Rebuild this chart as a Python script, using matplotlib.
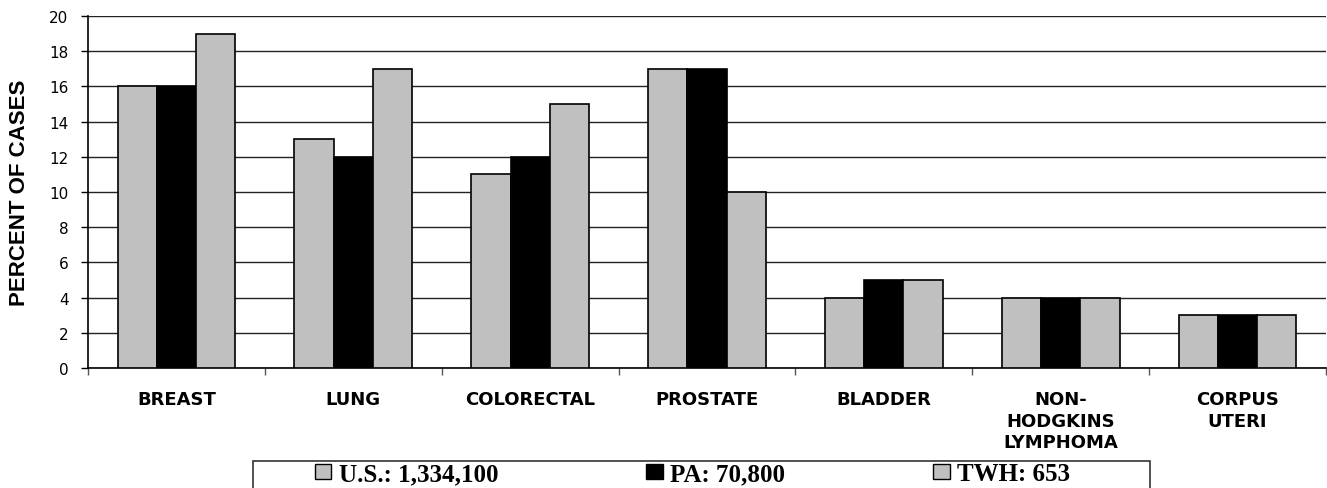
import matplotlib
matplotlib.use("Agg")
import matplotlib.pyplot as plt
from matplotlib.patches import Patch, Rectangle
import numpy as np

# Cancer site shares (percent of cases) for three populations
categories = ["BREAST", "LUNG", "COLORECTAL", "PROSTATE", "BLADDER",
              "NON-\nHODGKINS\nLYMPHOMA", "CORPUS\nUTERI"]
us_values = [16, 13, 11, 17, 4, 4, 3]
pa_values = [16, 12, 12, 17, 5, 4, 3]
twh_values = [19, 17, 15, 10, 5, 4, 3]
series_labels = ["U.S.: 1,334,100", "PA: 70,800", "TWH: 653"]
y_ticks = [0, 2, 4, 6, 8, 10, 12, 14, 16, 18, 20]

W, H = 1327, 489
fig = plt.figure(figsize=(W / 100, H / 100), dpi=100)
ax = fig.add_axes([88 / W, 120 / H, 1238 / W, 352 / H])

gray = "#c0c0c0"
colors = [gray, "black", gray]
series = [us_values, pa_values, twh_values]
x = np.arange(len(categories))
bw = 0.222
for i, (vals, col) in enumerate(zip(series, colors)):
    ax.bar(x + (i - 1) * bw, vals, width=bw, color=col,
           edgecolor="black", linewidth=1.2, zorder=3)

ax.set_xlim(-0.5, len(categories) - 0.5)
ax.set_ylim(0, 20)
ax.set_yticks(y_ticks)
ax.set_yticklabels([str(t) for t in y_ticks], family="DejaVu Sans",
                   fontsize=11)
ax.tick_params(axis="y", length=5, width=1, pad=9, color="black")

ax.set_xticks(x)
ax.set_xticklabels(categories, family="DejaVu Sans", fontweight="bold",
                   fontsize=13, linespacing=1.25, va="top")
ax.tick_params(axis="x", which="major", length=0, pad=16)
ax.set_xticks(np.arange(-0.5, len(categories), 1.0), minor=True)
ax.tick_params(axis="x", which="minor", length=5, width=1, color="#555555")

ax.yaxis.grid(True, color="#222222", linewidth=1.0)
ax.set_axisbelow(True)
for side in ("top", "right"):
    ax.spines[side].set_visible(False)
ax.spines["left"].set_linewidth(1.2)
ax.spines["bottom"].set_linewidth(1.2)

ax.set_ylabel("PERCENT OF CASES", family="Liberation Sans",
              fontweight="bold", fontsize=16)
ax.yaxis.set_label_coords(-0.047, 0.5)

# Legend frame spanning the lower strip, cut by the figure edge
fig.patches.append(Rectangle((253 / W, -0.1), (1150 - 253) / W,
                             0.1 + (H - 462) / H, transform=fig.transFigure,
                             facecolor="white", edgecolor="#333333",
                             linewidth=1.2))
handles = [Patch(facecolor=c, edgecolor="black", linewidth=1.0)
           for c in colors]
fig.legend(handles, series_labels, loc="center left", ncol=3,
           bbox_to_anchor=(315 / W, 1 - 475 / H, (1070 - 315) / W, 0.0),
           mode="expand", frameon=False, borderpad=0, borderaxespad=0,
           handlelength=0.65, handleheight=0.55, handletextpad=0.3,
           prop={"family": "Liberation Serif", "weight": "bold",
                 "size": 18})

fig.savefig("out.png", dpi=100)
